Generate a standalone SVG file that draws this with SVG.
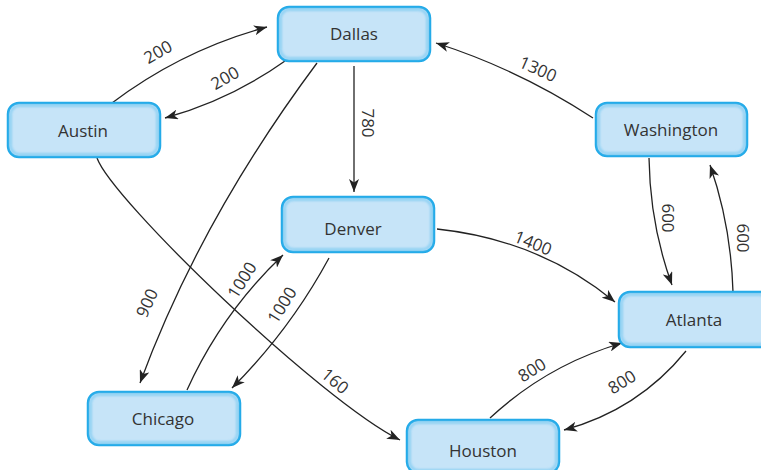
<svg xmlns="http://www.w3.org/2000/svg" width="761" height="470" viewBox="0 0 761 470">
<style>
.box{fill:#c6e4f8;stroke:#1fa9e8;stroke-width:2.5}
.glow{fill:none;stroke:#7ccaf2;stroke-width:3;opacity:.7}
.nt{font-family:"Open Sans","Noto Sans",sans-serif;font-size:17px;fill:#333;text-anchor:middle}
.lb{font-family:"Open Sans","Noto Sans",sans-serif;font-size:17px;fill:#333;text-anchor:middle}
.e{fill:none;stroke:#222;stroke-width:1.3;marker-end:url(#ah)}
</style>
<defs>
<marker id="ah" markerUnits="userSpaceOnUse" markerWidth="14" markerHeight="10" refX="13" refY="5" orient="auto">
<path d="M0,0 L13,5 L0,10 L3.5,5 Z" fill="#222"/>
</marker>
<filter id="bl" x="-10%" y="-10%" width="120%" height="120%"><feGaussianBlur stdDeviation="1.2"/></filter>
</defs>
<g id="connectors">
<path class="e" d="M112,103 Q182,50 267,27"/>
<path class="e" d="M285,61 Q230,100 165,118"/>
<path class="e" d="M317,63 Q200,220 140,383"/>
<path class="e" d="M354,66 L354,192"/>
<path class="e" d="M593,118 Q520,70 436,43"/>
<path class="e" d="M97,158 C112,200 320,400 400,440"/>
<path class="e" d="M437,229 Q540,240 615,302"/>
<path class="e" d="M187,390 Q222,313 283,255"/>
<path class="e" d="M329,258 Q290,330 232,388"/>
<path class="e" d="M649,158 Q650,225 672,285"/>
<path class="e" d="M733,292 Q731,225 710,165"/>
<path class="e" d="M490,418 Q547,365 622,343"/>
<path class="e" d="M686,351 Q638,410 564,430"/>
</g>
<g id="labels">
<text class="lb" transform="translate(158,52) rotate(-30)" dy=".35em">200</text>
<text class="lb" transform="translate(225,78) rotate(-30)" dy=".35em">200</text>
<text class="lb" transform="translate(147,303) rotate(-66)" dy=".35em">900</text>
<text class="lb" transform="translate(368,123) rotate(90)" dy=".35em">780</text>
<text class="lb" transform="translate(538,69) rotate(24)" dy=".35em">1300</text>
<text class="lb" transform="translate(335,381) rotate(40)" dy=".35em">160</text>
<text class="lb" transform="translate(533,243) rotate(22)" dy=".35em">1400</text>
<text class="lb" transform="translate(242,280) rotate(-58)" dy=".35em">1000</text>
<text class="lb" transform="translate(282,305) rotate(-58)" dy=".35em">1000</text>
<text class="lb" transform="translate(668,218) rotate(90)" dy=".35em">600</text>
<text class="lb" transform="translate(743,238) rotate(90)" dy=".35em">600</text>
<text class="lb" transform="translate(532,370) rotate(-32)" dy=".35em">800</text>
<text class="lb" transform="translate(622,382) rotate(-32)" dy=".35em">800</text>
</g>
<g id="dallas"><rect class="box" x="278" y="7" width="152" height="54" rx="11"/><rect class="glow" filter="url(#bl)" x="280.5" y="9.5" width="147" height="49" rx="9"/><text class="nt" x="354" y="40">Dallas</text></g>
<g id="austin"><rect class="box" x="8" y="103" width="152" height="54" rx="11"/><rect class="glow" filter="url(#bl)" x="10.5" y="105.5" width="147" height="49" rx="9"/><text class="nt" x="83" y="137">Austin</text></g>
<g id="denver"><rect class="box" x="282" y="197" width="152" height="55" rx="11"/><rect class="glow" filter="url(#bl)" x="284.5" y="199.5" width="147" height="50" rx="9"/><text class="nt" x="353" y="235">Denver</text></g>
<g id="washington"><rect class="box" x="596" y="103" width="151" height="53" rx="11"/><rect class="glow" filter="url(#bl)" x="598.5" y="105.5" width="146" height="48" rx="9"/><text class="nt" x="671" y="136">Washington</text></g>
<g id="atlanta"><rect class="box" x="619" y="292" width="152" height="55" rx="11"/><rect class="glow" filter="url(#bl)" x="621.5" y="294.5" width="147" height="50" rx="9"/><text class="nt" x="694" y="326">Atlanta</text></g>
<g id="chicago"><rect class="box" x="88" y="392" width="152" height="53" rx="11"/><rect class="glow" filter="url(#bl)" x="90.5" y="394.5" width="147" height="48" rx="9"/><text class="nt" x="163" y="425">Chicago</text></g>
<g id="houston"><rect class="box" x="407" y="420" width="152" height="53" rx="11"/><rect class="glow" filter="url(#bl)" x="409.5" y="422.5" width="147" height="48" rx="9"/><text class="nt" x="483" y="457">Houston</text></g>
</svg>
